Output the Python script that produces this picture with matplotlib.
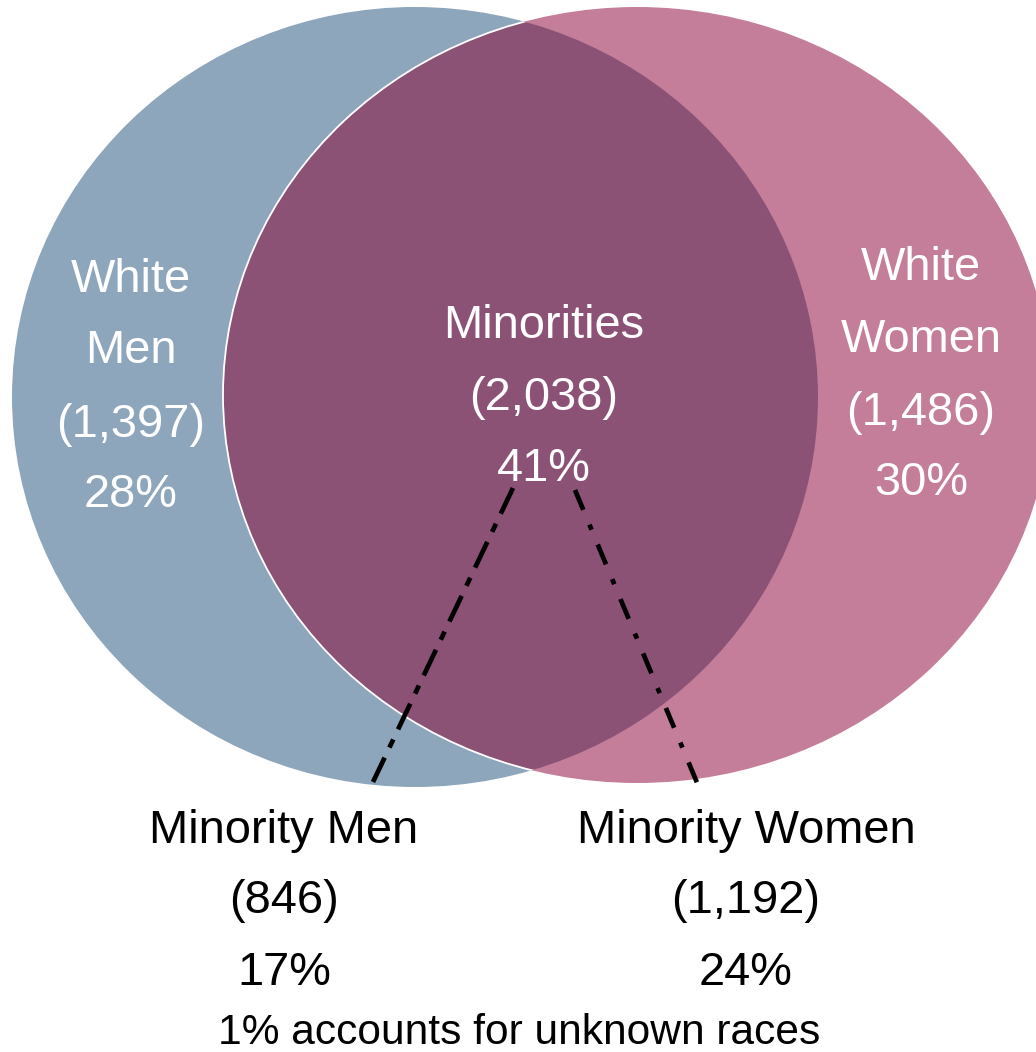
import matplotlib.pyplot as plt
from matplotlib.patches import Ellipse

plt.rcParams["font.family"] = ["Liberation Sans", "DejaVu Sans"]
plt.rcParams["lines.scale_dashes"] = False

# data
main_names = [["White", "Men"], ["Minorities"], ["White", "Women"]]
main_counts = [1397, 2038, 1486]
main_pcts = [28, 41, 30]
sub_names = ["Minority Men", "Minority Women"]
sub_counts = [846, 1192]
sub_pcts = [17, 24]
note = "1% accounts for unknown races"

BLUE = "#8DA6BC"
PINK = "#C47E99"
PURPLE = "#8C5276"

fig = plt.figure(figsize=(10.36, 10.52), dpi=100)
ax = fig.add_axes([0, 0, 1, 1])
ax.set_xlim(0, 1036)
ax.set_ylim(1052, 0)
ax.axis("off")

men = Ellipse((415, 397), 806, 780, facecolor=BLUE, edgecolor="none")
women = Ellipse((637, 395), 828, 776, facecolor=PINK, edgecolor="none")
ax.add_patch(men)
ax.add_patch(women)
both = Ellipse((637, 395), 828, 776, facecolor=PURPLE, edgecolor="white", lw=1.3)
ax.add_patch(both)
both.set_clip_path(men)

# connector lines from the overlap to the minority sub-groups
ax.plot([513, 373], [488, 782], color="black", lw=3.4,
        linestyle=(0, (20.5, 8, 6.5, 8)))
ax.plot([575, 698], [490, 785], color="black", lw=3.4,
        linestyle=(0, (15.5, 11.5, 4, 11.5)))

fs = 33.8
spots = [(131, [292, 363, 437, 507]), (544, [338, 410, 481]), (921, [280, 352, 425, 495])]
for (x, ys), names, n, p in zip(spots, main_names, main_counts, main_pcts):
    lines = names + [f"({n:,})", f"{p}%"]
    for y, s in zip(ys, lines):
        ax.text(x, y, s, color="white", fontsize=fs, ha="center", va="baseline")

for x, name, n, p in zip([284, 746], sub_names, sub_counts, sub_pcts):
    for y, s in zip([843, 913, 985], [name, f"({n:,})", f"{p}%"]):
        ax.text(x, y, s, color="black", fontsize=fs, ha="center", va="baseline")

ax.text(519, 1044, note, color="black", fontsize=30.6, ha="center", va="baseline")

fig.savefig("out.png", dpi=100)
